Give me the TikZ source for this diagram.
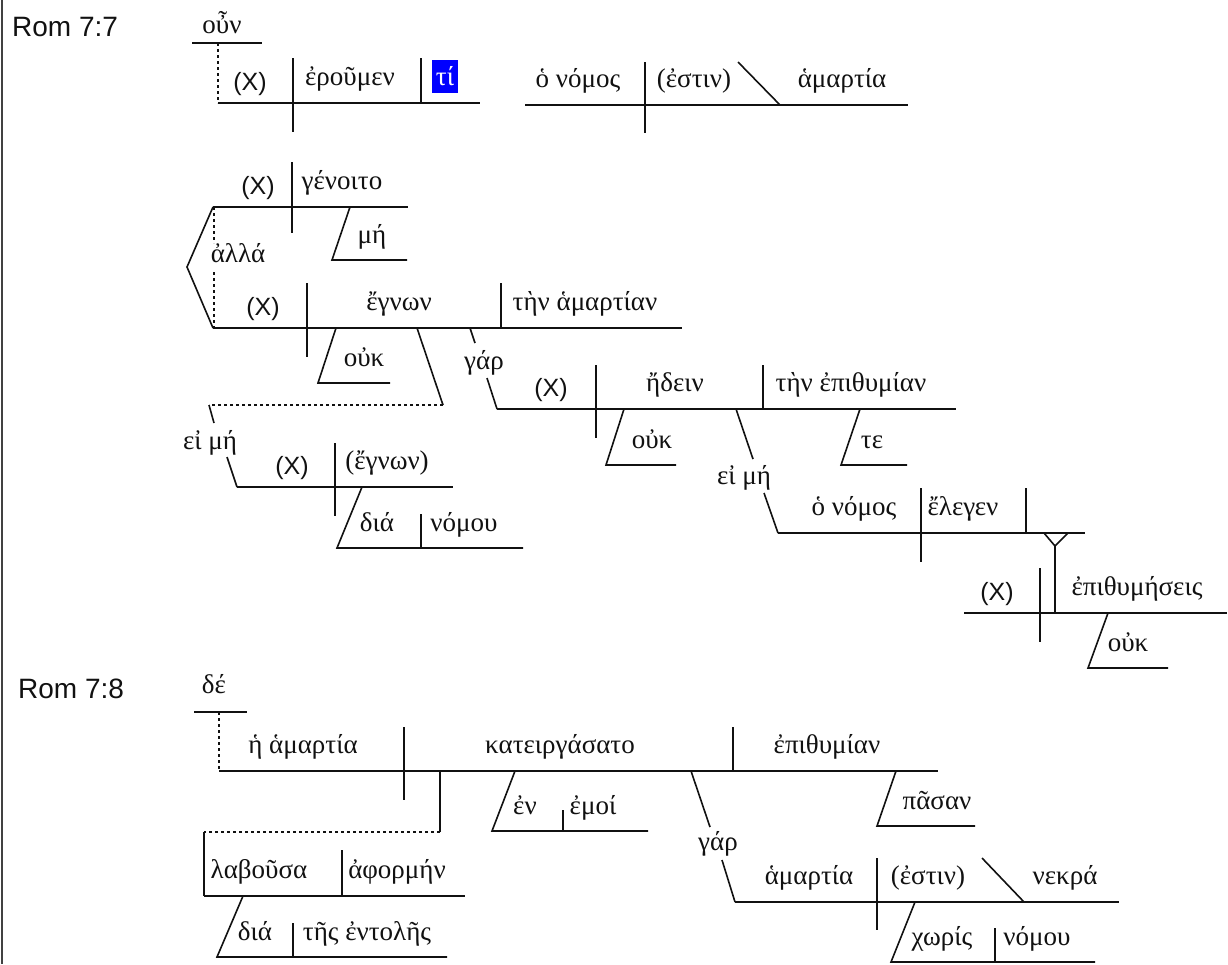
\documentclass[tikz,border=0pt]{standalone}
\usepackage{fontspec}
\setmainfont{Liberation Serif}
\newfontfamily\latinfont{Liberation Sans}
\usetikzlibrary{positioning}
\definecolor{Ink}{HTML}{111111}
\definecolor{HiBlue}{HTML}{0000FF}

\begin{document}
\begin{tikzpicture}[x=1pt, y=-1pt,
  greek/.style={font=\fontsize{27}{30}\selectfont, inner sep=0pt, anchor=base, text=Ink},
  xsub/.style={font=\latinfont\fontsize{25}{28}\selectfont, inner sep=0pt, anchor=base, text=Ink},
  verse/.style={font=\latinfont\fontsize{28}{30}\selectfont, inner sep=0pt, anchor=base west, text=Ink},
  ln/.style={draw=Ink, line width=1.6pt},
  dotln/.style={ln, dash pattern=on 3pt off 3pt}
]
\useasboundingbox (0,0) rectangle (1228,964);
\draw[ln, draw=Ink!80] (2,0) -- (2,964);

% Rom 7:7
\node[verse] (rom7) at (12,36) {Rom 7:7};
\node[greek] (oun) at (222,33) {οὖν};
\draw[ln] (192,43) -- (262,43);
\draw[dotln] (218,43) -- (218,103);

\draw[ln] (218,103) -- (480,103);
\draw[ln] (293,58) -- (293,132);
\draw[ln] (421,58) -- (421,103);
\node[xsub] (x1) at (250,90) {(X)};
\node[greek] (eroumen) at (350,85) {ἐροῦμεν};
\fill[HiBlue] (432,60) rectangle (458,93);
\node[greek, text=white] (ti) at (445,85) {τί};

\draw[ln] (525,105) -- (908,105);
\draw[ln] (645,62) -- (645,133);
\draw[ln] (738,62) -- (780,105);
\node[greek] (nomos1) at (578,87) {ὁ νόμος};
\node[greek] (estin1) at (694,87) {(ἐστιν)};
\node[greek] (hamartia1) at (842,87) {ἁμαρτία};

% alla
\draw[ln] (213,207) -- (187,267) -- (213,328);
\draw[dotln] (214,207) -- (214,243);
\draw[dotln] (214,272) -- (214,328);
\node[greek] (alla) at (238,262) {ἀλλά};

\draw[ln] (213,207) -- (408,207);
\draw[ln] (292,162) -- (292,233);
\draw[ln] (350,207) -- (332,260) -- (407,260);
\node[xsub] (x2) at (258,194) {(X)};
\node[greek] (genoito) at (342,189) {γένοιτο};
\node[greek] (me1) at (372,243) {μή};

\draw[ln] (213,328) -- (682,328);
\draw[ln] (307,283) -- (307,357);
\draw[ln] (501,283) -- (501,328);
\draw[ln] (336,328) -- (318,383) -- (390,383);
\node[xsub] (x3) at (263,315) {(X)};
\node[greek] (egnon) at (399,310) {ἔγνων};
\node[greek] (ten1) at (585,310) {τὴν ἁμαρτίαν};
\node[greek] (ouk1) at (364,366) {οὐκ};

% ei me (1)
\draw[ln] (417,328) -- (443,405);
\draw[dotln] (443,405) -- (209,405);
\draw[ln] (209,405) -- (214,423);
\draw[ln] (227,457) -- (237,487);
\node[greek] (eime1) at (210,449) {εἰ μή};

\draw[ln] (237,487) -- (453,487);
\draw[ln] (335,443) -- (335,516);
\draw[ln] (362,487) -- (337,548) -- (523,548);
\draw[ln] (421,514) -- (421,548);
\node[xsub] (x5) at (292,474) {(X)};
\node[greek] (egnon2) at (387,469) {(ἔγνων)};
\node[greek] (dia1) at (377,531) {διά};
\node[greek] (nomou1) at (464,531) {νόμου};

% gar (1)
\draw[ln] (470,328) -- (475,343);
\draw[ln] (487,378) -- (497,409);
\node[greek] (gar1) at (484,369) {γάρ};

\draw[ln] (497,409) -- (956,409);
\draw[ln] (596,365) -- (596,438);
\draw[ln] (763,365) -- (763,409);
\draw[ln] (624,409) -- (606,465) -- (676,465);
\draw[ln] (860,409) -- (841,465) -- (907,465);
\node[xsub] (x4) at (551,396) {(X)};
\node[greek] (eidein) at (675,391) {ἤδειν};
\node[greek] (ten2) at (851,391) {τὴν ἐπιθυμίαν};
\node[greek] (ouk2) at (652,448) {οὐκ};
\node[greek] (te) at (872,448) {τε};

% ei me (2)
\draw[ln] (736,409) -- (753,459);
\draw[ln] (764,493) -- (778,533);
\node[greek] (eime2) at (744,484) {εἰ μή};

\draw[ln] (778,533) -- (1085,533);
\draw[ln] (921,488) -- (921,562);
\draw[ln] (1026,488) -- (1026,533);
\node[greek] (nomos2) at (854,515) {ὁ νόμος};
\node[greek] (elegen) at (963,515) {ἔλεγεν};

\draw[ln] (1044,533) -- (1055,546) -- (1068,533);
\draw[ln] (1055,546) -- (1055,613);
\draw[ln] (964,613) -- (1227,613);
\draw[ln] (1040,568) -- (1040,642);
\draw[ln] (1108,613) -- (1088,668) -- (1168,668);
\node[xsub] (x6) at (997,600) {(X)};
\node[greek] (epithymeseis) at (1137,595) {ἐπιθυμήσεις};
\node[greek] (ouk3) at (1128,651) {οὐκ};

% Rom 7:8
\node[verse] (rom8) at (18,698) {Rom 7:8};
\node[greek] (de) at (214,693) {δέ};
\draw[ln] (194,712) -- (247,712);
\draw[dotln] (219,712) -- (219,771);

\draw[ln] (219,771) -- (938,771);
\draw[ln] (404,727) -- (404,800);
\draw[ln] (733,727) -- (733,771);
\node[greek] (hamartia2) at (303,753) {ἡ ἁμαρτία};
\node[greek] (kateirg) at (560,753) {κατειργάσατο};
\node[greek] (epithymian) at (827,753) {ἐπιθυμίαν};

\draw[ln] (515,771) -- (492,831) -- (648,831);
\draw[ln] (563,810) -- (563,831);
\node[greek] (en) at (525,814) {ἐν};
\node[greek] (emoi) at (593,814) {ἐμοί};

\draw[ln] (896,771) -- (877,826) -- (975,826);
\node[greek] (pasan) at (937,809) {πᾶσαν};

% participle
\draw[ln] (440,771) -- (440,832);
\draw[dotln] (440,832) -- (204,832);
\draw[ln] (204,832) -- (204,896);
\draw[ln] (204,896) -- (465,896);
\draw[ln] (342,850) -- (342,896);
\node[greek] (labousa) at (259,878) {λαβοῦσα};
\node[greek] (aphormen) at (397,878) {ἀφορμήν};
\draw[ln] (243,896) -- (217,957) -- (447,957);
\draw[ln] (293,923) -- (293,957);
\node[greek] (dia2) at (255,940) {διά};
\node[greek] (entoles) at (367,940) {τῆς ἐντολῆς};

% gar (2)
\draw[ln] (691,771) -- (710,827);
\draw[ln] (722,860) -- (735,902);
\node[greek] (gar2) at (718,850) {γάρ};

\draw[ln] (735,902) -- (1119,902);
\draw[ln] (877,858) -- (877,930);
\draw[ln] (982,858) -- (1024,902);
\node[greek] (hamartia3) at (809,884) {ἁμαρτία};
\node[greek] (estin2) at (928,884) {(ἐστιν)};
\node[greek] (nekra) at (1065,884) {νεκρά};
\draw[ln] (915,902) -- (891,962) -- (1095,962);
\draw[ln] (995,928) -- (995,962);
\node[greek] (choris) at (942,945) {χωρίς};
\node[greek] (nomou2) at (1037,945) {νόμου};
\end{tikzpicture}
\end{document}
